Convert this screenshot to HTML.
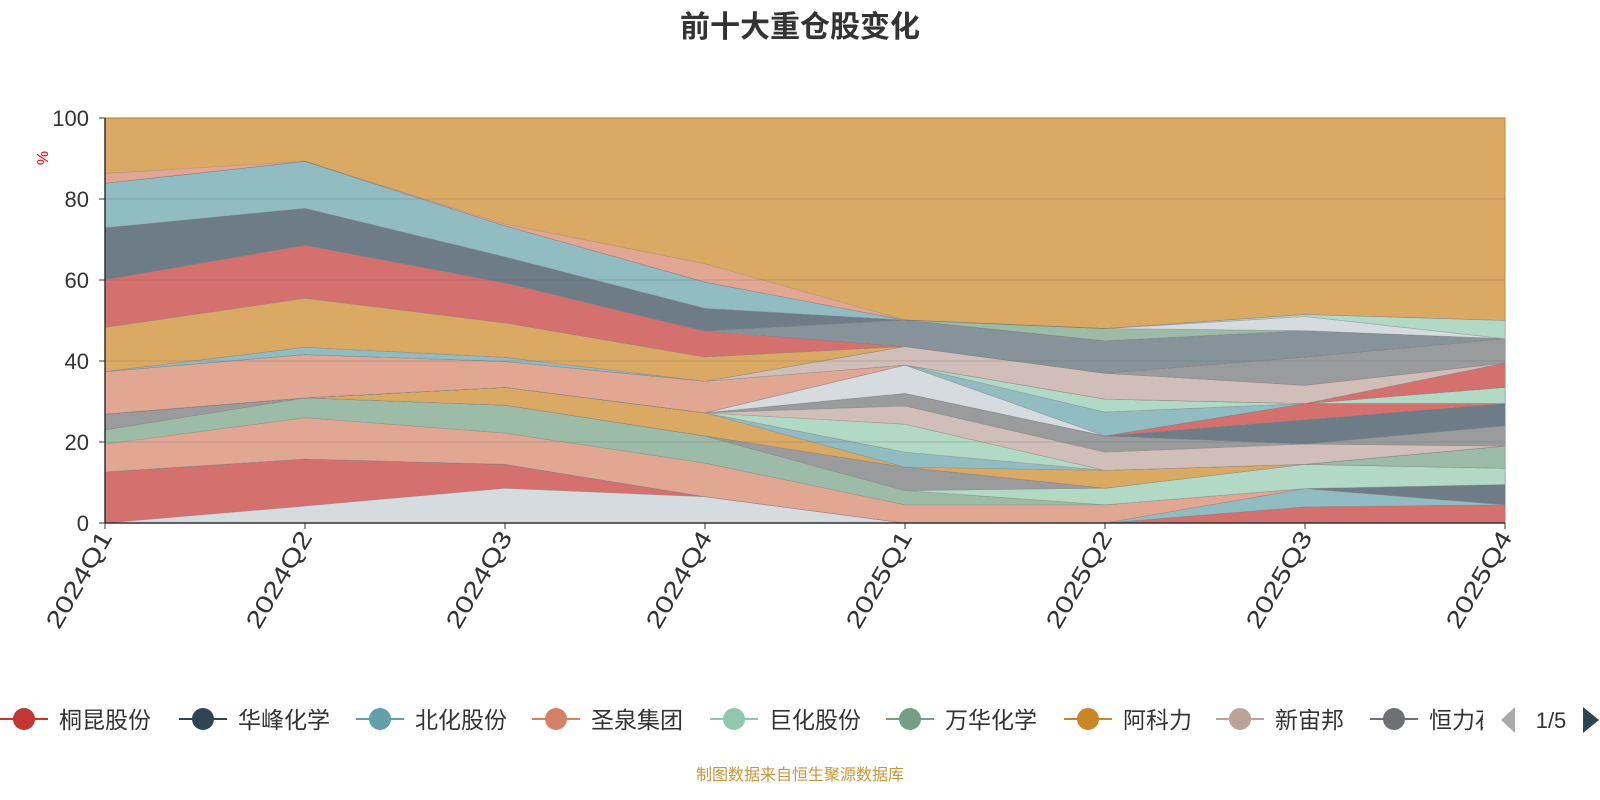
<!DOCTYPE html>
<html><head><meta charset="utf-8"><style>
html,body{margin:0;padding:0;background:#fff;width:1600px;height:800px;overflow:hidden;font-family:"Liberation Sans","Noto Sans CJK SC",sans-serif}
</style></head><body>
<svg id="chart" width="1600" height="800" xmlns="http://www.w3.org/2000/svg" style="font-family:'Liberation Sans','Noto Sans CJK SC',sans-serif">
<text x="800" y="37" text-anchor="middle" font-size="30" font-weight="bold" fill="#333">前十大重仓股变化</text>
<g id="areas"></g>
<g id="axes"></g>
<g id="legend"></g>
<text x="800" y="780" text-anchor="middle" font-size="16" fill="#c8963c">制图数据来自恒生聚源数据库</text>
</svg>
<script>
const categories = ["2024Q1","2024Q2","2024Q3","2024Q4","2025Q1","2025Q2","2025Q3","2025Q4"];
const yTicks = [0,20,40,60,80,100];
const layerColors = ["#c4ccd3","#c23531","#61a0a8","#2f4554","#d48265","#749f83","#91c7ae","#6e7074","#749f83","#ca8622","#61a0a8","#91c7ae","#bda29a","#6e7074","#2f4554","#c23531","#c4ccd3","#61a0a8","#91c7ae","#d48265","#c23531","#bda29a","#61a0a8","#6e7074","#ca8622","#c23531","#546570","#2f4554","#61a0a8","#749f83","#c4ccd3","#91c7ae","#d48265"];
const s01=[0,4.2,8.6,6.5,0,0,0,0];
const s02=[12.6,11.6,5.9,0,0,0,4,4.5];
const s03=[0,0,0,0,0,0,4.5,0];
const s04=[0,0,0,0,0,0,0,5];
const s05=[6.9,10.2,7.7,8.3,4.5,4.5,0,0];
const s06=[3.5,4.9,6.9,6.7,3.5,0,0,0];
const s07=[0,0,0,0,0,4.1,6,4];
const s08=[3.9,0,0,0,5.8,0,0,0];
const s09=[0,0,0,0,0,0,0,5.5];
const s10=[0,0,4.4,5.7,0,4.4,0,0];
const s11=[0,0,0,0,3.7,0,0,0];
const s12=[0,0,0,0,6.9,0,0,0];
const s13=[0,0,0,0,4.5,4.5,5,0];
const s14=[0,0,0,0,3.1,4,0,5];
const s15=[0,0,0,0,0,0,6,5.5];
const s16=[0,0,0,0,0,0,4,0];
const s17=[0,0,0,0,7,0,0,0];
const s18=[0,0,0,0,0,5.9,0,0];
const s19=[0,0,0,0,0,3.2,0,4];
const s20=[10.5,10.7,6.4,7.8,0,0,0,0];
const s21=[0,0,0,0,0,0,0,6];
const s22=[0,0,0,0,4.6,6.4,4.5,0];
const s23=[0,1.8,1,0,0,0,0,0];
const s24=[0,0,0,0,0,0,7,6];
const s25=[10.9,12.1,8.5,6,0,0,0,0];
const s26=[11.8,13.1,9.9,6.4,0,0,0,0];
const s27=[0,0,0,0,6.5,8,6.5,0];
const s28=[12.8,9.1,6.4,5.6,0,0,0,0];
const s29=[11,11.6,7.7,6.5,0,0,0,0];
const s30=[0,0,0,0,0,3,0,0];
const s31=[0,0,0,0,0,0,3.5,0];
const s32=[0,0,0,0,0,0,0.5,4.5];
const s33=[2.4,0,0.4,4.5,0,0,0,0];
const series=[s01,s02,s03,s04,s05,s06,s07,s08,s09,s10,s11,s12,s13,s14,s15,s16,s17,s18,s19,s20,s21,s22,s23,s24,s25,s26,s27,s28,s29,s30,s31,s32,s33];
const legendNames=["桐昆股份","华峰化学","北化股份","圣泉集团","巨化股份","万华化学","阿科力","新宙邦","恒力石化"];
const legendColors=["#c23531","#2f4554","#61a0a8","#d48265","#91c7ae","#749f83","#ca8622","#bda29a","#6e7074"];

const NS="http://www.w3.org/2000/svg";
const X0=105,X1=1505,Y0=523,Y1=118;
const xs=i=>X0+i*(X1-X0)/(categories.length-1);
const ys=v=>Y0-v*(Y0-Y1)/100;
function mk(tag,attrs,parent){const e=document.createElementNS(NS,tag);for(const k in attrs)e.setAttribute(k,attrs[k]);parent.appendChild(e);return e;}
const areas=document.getElementById('areas');
const topArea=mk('path',{d:`M${X0},${ys(100)} L${X1},${ys(100)} L${X1},${Y0} L${X0},${Y0} Z`,fill:"#ca8622","fill-opacity":0.7,stroke:"#ca8622","stroke-width":1},areas);


let base=categories.map(()=>0);
series.forEach((s,k)=>{
  const topv=base.map((b,i)=>b+s[i]);
  let d=`M${xs(0)},${ys(topv[0])}`;
  for(let i=1;i<topv.length;i++)d+=` L${xs(i)},${ys(topv[i])}`;
  for(let i=base.length-1;i>=0;i--)d+=` L${xs(i)},${ys(base[i])}`;
  d+=' Z';
  const p=mk('path',{d,fill:"#fff",stroke:"none"},areas);
  
  
  const q=mk('path',{d,fill:layerColors[k],"fill-opacity":0.7,stroke:"rgba(120,120,120,0.5)","stroke-width":0.6},areas);
  
  
  base=topv;
});
const axes=document.getElementById('axes');
yTicks.forEach(t=>{
  const g=mk('line',{x1:X0,x2:X1,y1:ys(t),y2:ys(t),stroke:"rgba(90,90,90,0.25)","stroke-width":1},axes);
  
  
  mk('line',{x1:X0-6,x2:X0,y1:ys(t),y2:ys(t),stroke:"#333"},axes);
  const lb=mk('text',{x:X0-16,y:ys(t)+8,"text-anchor":"end","font-size":22,fill:"#333"},axes);
  lb.textContent=t;
  
  
});
mk('line',{x1:X0,x2:X0,y1:Y1,y2:Y0,stroke:"#333","stroke-width":1.5},axes);
mk('line',{x1:X0,x2:X1,y1:Y0,y2:Y0,stroke:"#333","stroke-width":1.5},axes);
const yt=mk('text',{x:0,y:0,transform:`translate(48,158) rotate(-90)`,"text-anchor":"middle","font-size":16,fill:"#e00"},axes);
yt.textContent="%";


categories.forEach((c,i)=>{
  mk('line',{x1:xs(i),x2:xs(i),y1:Y0,y2:Y0+6,stroke:"#333"},axes);
  const t=mk('text',{x:0,y:0,transform:`translate(${xs(i)+8},${Y0+14}) rotate(-60)`,"text-anchor":"end","font-size":24,fill:"#333",textLength:108,lengthAdjust:"spacingAndGlyphs"},axes);
  t.textContent=c;
  
  
});
const leg=document.getElementById('legend');
const lx=[24,203,380,556,734,910,1088,1240,1394];
legendNames.forEach((n,i)=>{
  const g=mk('g',{},leg);
  
  
  mk('line',{x1:lx[i]-24,x2:lx[i]+24,y1:719,y2:719,stroke:legendColors[i],"stroke-width":2},g);
  mk('circle',{cx:lx[i],cy:719,r:11,fill:legendColors[i]},g);
  const t=mk('text',{x:lx[i]+35,y:728,"font-size":23,fill:"#333"},g);
  t.textContent=n;
});
mk('rect',{x:1483,y:695,width:117,height:50,fill:"#fff"},leg);
const pl=mk('path',{d:"M1515,707 L1501,720 L1515,733 Z",fill:"#aaa"},leg);


const pt=mk('text',{x:1551,y:728,"text-anchor":"middle","font-size":22,fill:"#333"},leg);
pt.textContent="1/5";


const pr=mk('path',{d:"M1583,707 L1599,720 L1583,733 Z",fill:"#2f4554"},leg);


</script>
</body></html>
